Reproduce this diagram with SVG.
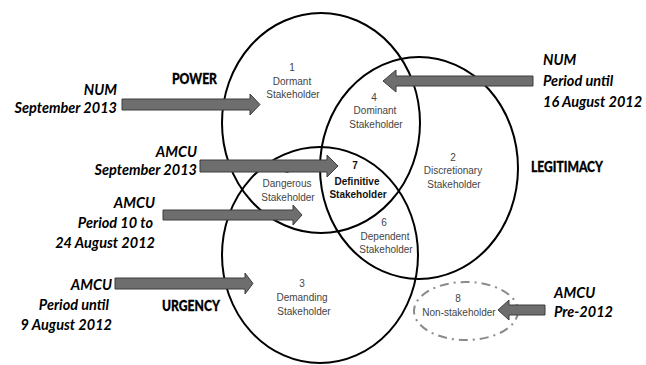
<svg xmlns="http://www.w3.org/2000/svg" width="646" height="365" viewBox="0 0 646 365">
<style>
.ring{fill:none;stroke:#000;stroke-width:2}
.dash{fill:none;stroke:#8a8a8a;stroke-width:2;stroke-dasharray:9 5 2 5}
.in{font-family:"Liberation Sans",Arial,sans-serif;font-size:10px;fill:#444;text-anchor:middle}
.def{font-family:"Liberation Sans",Arial,sans-serif;font-size:10px;font-weight:bold;fill:#111;text-anchor:middle}
.attr{font-family:Lato,"Liberation Sans",sans-serif;font-size:14.5px;font-weight:900;fill:#000;stroke:#000;stroke-width:0.3}
.lab{font-family:Lato,"Liberation Sans",sans-serif;font-size:14.5px;font-weight:bold;font-style:italic;fill:#000}
.arr{fill:#6e6e6e;stroke:#3c3c3c;stroke-width:1}
</style>
<rect width="646" height="365" fill="#fff"/>
<g id="power">
<ellipse class="ring" cx="321" cy="123" rx="99" ry="110"/>
<text class="attr" x="172" y="84" textLength="45" lengthAdjust="spacingAndGlyphs">POWER</text>
</g>
<g id="legitimacy">
<ellipse class="ring" cx="419" cy="168" rx="99" ry="111"/>
<text class="attr" x="531" y="172" textLength="72" lengthAdjust="spacingAndGlyphs">LEGITIMACY</text>
</g>
<g id="urgency">
<ellipse class="ring" cx="320" cy="255" rx="98" ry="108"/>
<text class="attr" x="162" y="311" textLength="58" lengthAdjust="spacingAndGlyphs">URGENCY</text>
</g>
<g id="dormant"><text class="in" x="292" y="71">1</text><text class="in" x="292" y="85">Dormant</text><text class="in" x="293" y="98">Stakeholder</text></g>
<g id="dominant"><text class="in" x="374" y="101">4</text><text class="in" x="375" y="114">Dominant</text><text class="in" x="376" y="128">Stakeholder</text></g>
<g id="discretionary"><text class="in" x="453" y="161">2</text><text class="in" x="453" y="174">Discretionary</text><text class="in" x="454" y="188">Stakeholder</text></g>
<g id="dangerous"><text class="in" x="287" y="173">5</text><text class="in" x="287" y="187">Dangerous</text><text class="in" x="288" y="201">Stakeholder</text></g>
<g id="definitive"><text class="def" x="355" y="169">7</text><text class="def" x="357" y="185">Definitive</text><text class="def" x="358" y="198">Stakeholder</text></g>
<g id="dependent"><text class="in" x="384" y="226">6</text><text class="in" x="385" y="240">Dependent</text><text class="in" x="386" y="253">Stakeholder</text></g>
<g id="demanding"><text class="in" x="302" y="287">3</text><text class="in" x="302" y="301">Demanding</text><text class="in" x="304" y="315">Stakeholder</text></g>
<g id="nonstakeholder">
<ellipse class="dash" cx="466" cy="311" rx="52" ry="29"/>
<text class="in" x="458" y="302">8</text><text class="in" x="459" y="316">Non-stakeholder</text>
</g>
<g id="num-sep2013"><text class="lab" x="117" y="95" text-anchor="end">NUM</text><text class="lab" x="117" y="113" text-anchor="end">September 2013</text></g>
<g id="amcu-sep2013"><text class="lab" x="197" y="157" text-anchor="end">AMCU</text><text class="lab" x="197" y="175" text-anchor="end">September 2013</text></g>
<g id="amcu-10-24aug"><text class="lab" x="155" y="208" text-anchor="end">AMCU</text><text class="lab" x="153" y="228" text-anchor="end">Period 10 to</text><text class="lab" x="155" y="248" text-anchor="end">24 August 2012</text></g>
<g id="amcu-9aug"><text class="lab" x="112" y="290" text-anchor="end">AMCU</text><text class="lab" x="109" y="310" text-anchor="end">Period until</text><text class="lab" x="112" y="330" text-anchor="end">9 August 2012</text></g>
<g id="num-16aug"><text class="lab" x="543" y="65">NUM</text><text class="lab" x="543" y="86">Period until</text><text class="lab" x="543" y="107">16 August 2012</text></g>
<g id="amcu-pre2012"><text class="lab" x="554" y="298">AMCU</text><text class="lab" x="554" y="317">Pre-2012</text></g>
<g id="connectors">
<path class="arr" d="M122,99 H250 V94 L260,104.5 L250,115 V110 H122 Z"/>
<path class="arr" d="M200,160 H327 V155 L338,166 L327,177 V172 H200 Z"/>
<path class="arr" d="M163,210 H293 V205 L302,215 L293,225 V220 H163 Z"/>
<path class="arr" d="M115,278 H245 V273 L253,283.5 L245,294 V289 H115 Z"/>
<path class="arr" d="M533,76 H396 V70 L383,81 L396,92 V86 H533 Z"/>
<path class="arr" d="M545,305 H509 V300 L498,310 L509,320 V315 H545 Z"/>
</g>
</svg>
